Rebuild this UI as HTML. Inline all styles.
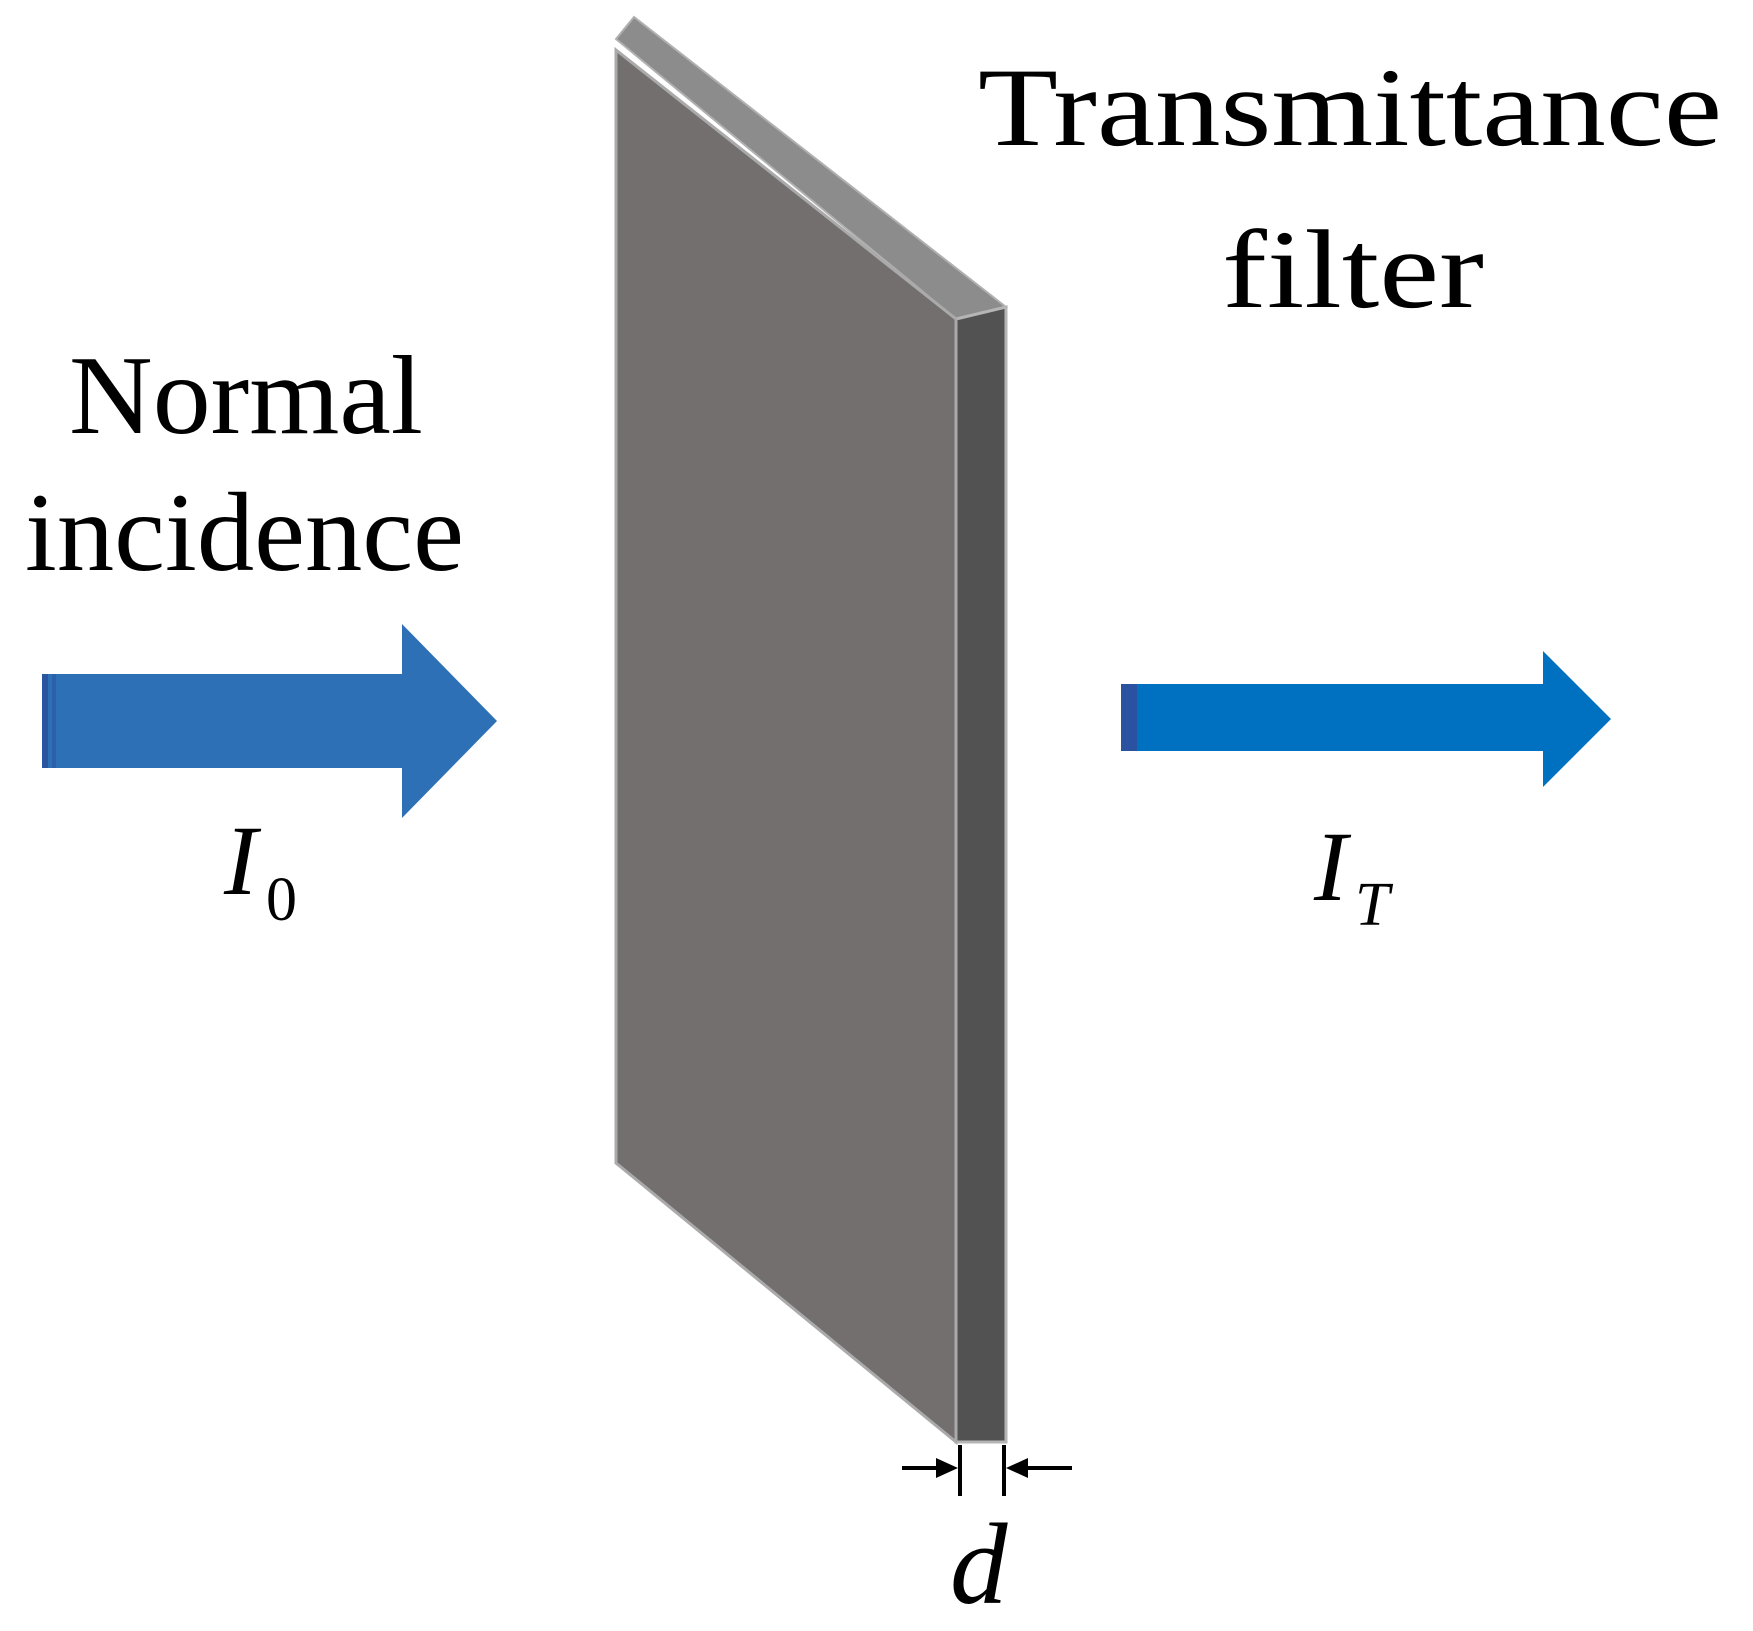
<!DOCTYPE html>
<html><head><meta charset="utf-8"><style>html,body{margin:0;padding:0;background:#fff}svg{display:block}</style></head>
<body>
<svg width="1753" height="1631" viewBox="0 0 1753 1631" xmlns="http://www.w3.org/2000/svg" font-family="Liberation Serif, serif">
<!-- top face -->
<polygon points="616,39 634,17 1006,307 956,319" fill="#8c8c8c" stroke="#b0b0b0" stroke-width="2"/>
<!-- side face -->
<polygon points="956,319 1006,307 1006,1442 956,1442" fill="#525252" stroke="#b5b5b5" stroke-width="3"/>
<!-- front face -->
<polygon points="616,50 956,319 956,1442 616,1163" fill="#736f6e" stroke="#aaaaaa" stroke-width="3"/>
<!-- left arrow -->
<polygon points="42,674 402,674 402,624 497,721 402,818 402,768 42,768" fill="#2e70b5"/>
<rect x="42" y="674" width="6" height="94" fill="#2a55a0"/>
<rect x="52" y="674" width="4" height="94" fill="#2c60aa"/>
<!-- right arrow -->
<polygon points="1121,684 1543,684 1543,651 1611,719 1543,787 1543,751 1121,751" fill="#0070c0"/>
<rect x="1121" y="684" width="16" height="67" fill="#2a52a0"/>
<!-- dimension -->
<g stroke="#000" stroke-width="4">
<line x1="960" y1="1445" x2="960" y2="1496"/>
<line x1="1004" y1="1445" x2="1004" y2="1496"/>
<line x1="902" y1="1468" x2="945" y2="1468"/>
<line x1="1019" y1="1468" x2="1072" y2="1468"/>
</g>
<polygon points="958,1468 936,1458 936,1478" fill="#000"/>
<polygon points="1006,1468 1028,1458 1028,1478" fill="#000"/>
<g fill="#000" font-size="112">
<text x="978" y="145" textLength="744" lengthAdjust="spacingAndGlyphs">Transmittance</text>
<text x="1222" y="307" textLength="262" lengthAdjust="spacingAndGlyphs">filter</text>
<text x="69" y="433" textLength="354" lengthAdjust="spacingAndGlyphs">Normal</text>
<text x="25" y="570" textLength="439" lengthAdjust="spacingAndGlyphs">incidence</text>
<text x="224" y="894" font-style="italic" font-size="100">I</text>
<text x="266" y="920" font-size="62">0</text>
<text x="1314" y="900" font-style="italic" font-size="100">I</text>
<text x="1355" y="925" font-style="italic" font-size="62">T</text>
<text x="950" y="1603" font-style="italic" font-size="115">d</text>
</g>
</svg>
</body></html>
